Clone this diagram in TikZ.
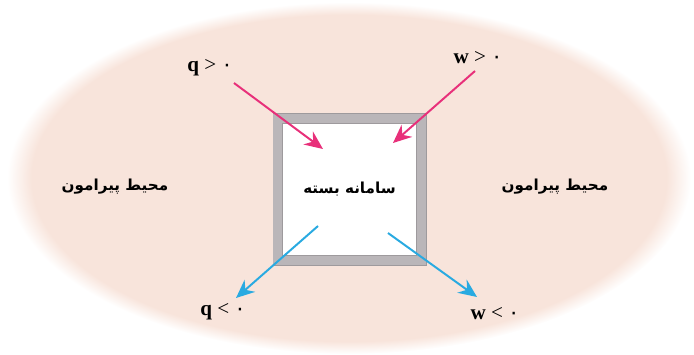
\documentclass[tikz,border=0pt]{standalone}
\usepackage{fontspec}
\setmainfont{Liberation Serif}
\newfontfamily\arabicfont[Script=Arabic]{DejaVu Sans}
\TeXXeTstate=1
\usetikzlibrary{arrows.meta}

\definecolor{peach}{RGB}{248,228,219}
\definecolor{framegray}{RGB}{186,182,185}
\definecolor{framedark}{RGB}{158,154,157}
\definecolor{heatpink}{RGB}{232,48,122}
\definecolor{workblue}{RGB}{41,170,225}
\pgfdeclareradialshading{envfade}{\pgfpoint{0bp}{0bp}}{color(0bp)=(peach); color(23.2bp)=(peach); color(25bp)=(white); color(50bp)=(white)}

\begin{document}
\begin{tikzpicture}[x=0.025cm,y=-0.025cm,line width=1.4pt,>={Stealth[length=4.6mm,width=4mm,inset=1.5mm]},
  sysbox/.style={draw=framedark,line width=0.7pt,double=framegray,double distance=0.22cm,fill=white,
    minimum width=3.58cm,minimum height=3.55cm,font=\arabicfont\bfseries\fontsize{10.8}{13}\selectfont},
  envtext/.style={font=\arabicfont\bfseries\fontsize{10.8}{13}\selectfont},
  sign/.style={font=\fontsize{15}{17}\selectfont}]
  \useasboundingbox (0,0) rectangle (694,354);
  \shade[shading=envfade] (349,178) ellipse [x radius=342,y radius=176];

  \node[sysbox] (sys) at (349.5,189.5) {\beginR سامانه بسته\endR};
  \node[envtext] (envL) at (115,187) {\beginR محیط پیرامون\endR};
  \node[envtext] (envR) at (555,187) {\beginR محیط پیرامون\endR};

  \node[sign] (qpos) at (210,68) {\textbf{q} > {\arabicfont ۰}};
  \node[sign] (wpos) at (478,58) {\textbf{w} > {\arabicfont ۰}};
  \node[sign] (qneg) at (223,312) {\textbf{q} < {\arabicfont ۰}};
  \node[sign] (wneg) at (495,314) {\textbf{w} < {\arabicfont ۰}};

  \coordinate (qin-s) at (234,83);
  \coordinate (qin-e) at (323,149);
  \coordinate (win-s) at (475,71);
  \coordinate (win-e) at (393,143);
  \coordinate (qout-s) at (318,226);
  \coordinate (qout-e) at (236,298);
  \coordinate (wout-s) at (388,233);
  \coordinate (wout-e) at (477,297);

  \draw[->,heatpink] (qin-s)--(qin-e);
  \draw[->,heatpink] (win-s)--(win-e);
  \draw[->,workblue] (qout-s)--(qout-e);
  \draw[->,workblue] (wout-s)--(wout-e);
\end{tikzpicture}
\end{document}
